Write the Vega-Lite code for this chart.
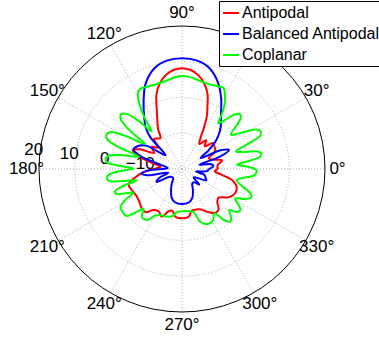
{
  "$schema": "https://vega.github.io/schema/vega-lite/v6.json",
  "width": 379,
  "height": 343,
  "autosize": {"type": "none"},
  "padding": 0,
  "background": "white",
  "config": {"view": {"stroke": null}, "font": "Liberation Sans"},
  "datasets": {
    "pattern": [
      {"series": "Antipodal", "deg": 0, "db": -10}, {"series": "Antipodal", "deg": 6, "db": -10}, {"series": "Antipodal", "deg": 12, "db": -8.5}, {"series": "Antipodal", "deg": 17, "db": -11}, {"series": "Antipodal", "deg": 22, "db": -12}, {"series": "Antipodal", "deg": 28, "db": -9.5}, {"series": "Antipodal", "deg": 34, "db": -9}, {"series": "Antipodal", "deg": 40, "db": -8.7}, {"series": "Antipodal", "deg": 45, "db": -11}, {"series": "Antipodal", "deg": 50, "db": -9.5}, {"series": "Antipodal", "deg": 55, "db": -11.5}, {"series": "Antipodal", "deg": 59, "db": -10}, {"series": "Antipodal", "deg": 62, "db": -7}, {"series": "Antipodal", "deg": 65, "db": -3.5}, {"series": "Antipodal", "deg": 68, "db": -1}, {"series": "Antipodal", "deg": 71, "db": 2}, {"series": "Antipodal", "deg": 75, "db": 4.5}, {"series": "Antipodal", "deg": 80, "db": 6.6}, {"series": "Antipodal", "deg": 85, "db": 7.8}, {"series": "Antipodal", "deg": 90, "db": 8.2}, {"series": "Antipodal", "deg": 95, "db": 7.8}, {"series": "Antipodal", "deg": 100, "db": 6.6}, {"series": "Antipodal", "deg": 105, "db": 4.5}, {"series": "Antipodal", "deg": 109, "db": 2}, {"series": "Antipodal", "deg": 112, "db": -1}, {"series": "Antipodal", "deg": 115, "db": -3.5}, {"series": "Antipodal", "deg": 118, "db": -5.4}, {"series": "Antipodal", "deg": 121, "db": -7}, {"series": "Antipodal", "deg": 125, "db": -9.5}, {"series": "Antipodal", "deg": 129, "db": -9}, {"series": "Antipodal", "deg": 133, "db": -8.5}, {"series": "Antipodal", "deg": 138, "db": -11}, {"series": "Antipodal", "deg": 144, "db": -9.5}, {"series": "Antipodal", "deg": 150, "db": -11}, {"series": "Antipodal", "deg": 155, "db": -7}, {"series": "Antipodal", "deg": 159, "db": -5.2}, {"series": "Antipodal", "deg": 163, "db": -7}, {"series": "Antipodal", "deg": 168, "db": -11}, {"series": "Antipodal", "deg": 174, "db": -14}, {"series": "Antipodal", "deg": 180, "db": -12}, {"series": "Antipodal", "deg": 185, "db": -9}, {"series": "Antipodal", "deg": 190, "db": -6.8}, {"series": "Antipodal", "deg": 196, "db": -4.5}, {"series": "Antipodal", "deg": 203, "db": -4.8}, {"series": "Antipodal", "deg": 210, "db": -5.2}, {"series": "Antipodal", "deg": 217, "db": -5}, {"series": "Antipodal", "deg": 224, "db": -4.3}, {"series": "Antipodal", "deg": 230, "db": -4.2}, {"series": "Antipodal", "deg": 235, "db": -6}, {"series": "Antipodal", "deg": 241, "db": -6.5}, {"series": "Antipodal", "deg": 247, "db": -5.5}, {"series": "Antipodal", "deg": 252, "db": -7.5}, {"series": "Antipodal", "deg": 257, "db": -8}, {"series": "Antipodal", "deg": 262, "db": -6.5}, {"series": "Antipodal", "deg": 270, "db": -6.2}, {"series": "Antipodal", "deg": 278, "db": -6.5}, {"series": "Antipodal", "deg": 283, "db": -8}, {"series": "Antipodal", "deg": 289, "db": -8}, {"series": "Antipodal", "deg": 295, "db": -7.5}, {"series": "Antipodal", "deg": 301, "db": -6}, {"series": "Antipodal", "deg": 307, "db": -4.6}, {"series": "Antipodal", "deg": 312, "db": -4.7}, {"series": "Antipodal", "deg": 317, "db": -6.5}, {"series": "Antipodal", "deg": 322, "db": -7}, {"series": "Antipodal", "deg": 328, "db": -5}, {"series": "Antipodal", "deg": 334, "db": -3.8}, {"series": "Antipodal", "deg": 341, "db": -3.8}, {"series": "Antipodal", "deg": 347, "db": -5.4}, {"series": "Antipodal", "deg": 352, "db": -9}, {"series": "Antipodal", "deg": 356, "db": -10.8}, {"series": "Antipodal", "deg": 360, "db": -10},

      {"series": "Balanced Antipodal", "deg": 0, "db": -12.5}, {"series": "Balanced Antipodal", "deg": 5, "db": -11.2}, {"series": "Balanced Antipodal", "deg": 10, "db": -12}, {"series": "Balanced Antipodal", "deg": 14, "db": -15}, {"series": "Balanced Antipodal", "deg": 18, "db": -9}, {"series": "Balanced Antipodal", "deg": 22, "db": -5.8}, {"series": "Balanced Antipodal", "deg": 26, "db": -8}, {"series": "Balanced Antipodal", "deg": 30, "db": -14}, {"series": "Balanced Antipodal", "deg": 35, "db": -11}, {"series": "Balanced Antipodal", "deg": 40, "db": -7.5}, {"series": "Balanced Antipodal", "deg": 45, "db": -5}, {"series": "Balanced Antipodal", "deg": 50, "db": -3}, {"series": "Balanced Antipodal", "deg": 55, "db": -1}, {"series": "Balanced Antipodal", "deg": 60, "db": 2}, {"series": "Balanced Antipodal", "deg": 67, "db": 6}, {"series": "Balanced Antipodal", "deg": 75, "db": 9.3}, {"series": "Balanced Antipodal", "deg": 82, "db": 10.6}, {"series": "Balanced Antipodal", "deg": 90, "db": 11}, {"series": "Balanced Antipodal", "deg": 98, "db": 10.6}, {"series": "Balanced Antipodal", "deg": 105, "db": 9.3}, {"series": "Balanced Antipodal", "deg": 113, "db": 6}, {"series": "Balanced Antipodal", "deg": 120, "db": 1.5}, {"series": "Balanced Antipodal", "deg": 126, "db": -2}, {"series": "Balanced Antipodal", "deg": 131, "db": -4.5}, {"series": "Balanced Antipodal", "deg": 135, "db": -7.5}, {"series": "Balanced Antipodal", "deg": 140, "db": -14}, {"series": "Balanced Antipodal", "deg": 147, "db": -8}, {"series": "Balanced Antipodal", "deg": 153, "db": -6}, {"series": "Balanced Antipodal", "deg": 158, "db": -5.4}, {"series": "Balanced Antipodal", "deg": 163, "db": -8}, {"series": "Balanced Antipodal", "deg": 169, "db": -14}, {"series": "Balanced Antipodal", "deg": 176, "db": -16}, {"series": "Balanced Antipodal", "deg": 182, "db": -11}, {"series": "Balanced Antipodal", "deg": 186, "db": -8.6}, {"series": "Balanced Antipodal", "deg": 190, "db": -10}, {"series": "Balanced Antipodal", "deg": 195, "db": -16}, {"series": "Balanced Antipodal", "deg": 202, "db": -13}, {"series": "Balanced Antipodal", "deg": 207, "db": -12}, {"series": "Balanced Antipodal", "deg": 213, "db": -16}, {"series": "Balanced Antipodal", "deg": 225, "db": -16.5}, {"series": "Balanced Antipodal", "deg": 235, "db": -15}, {"series": "Balanced Antipodal", "deg": 242, "db": -13.5}, {"series": "Balanced Antipodal", "deg": 250, "db": -11.5}, {"series": "Balanced Antipodal", "deg": 258, "db": -10.5}, {"series": "Balanced Antipodal", "deg": 270, "db": -10.2}, {"series": "Balanced Antipodal", "deg": 282, "db": -10.5}, {"series": "Balanced Antipodal", "deg": 290, "db": -11.5}, {"series": "Balanced Antipodal", "deg": 298, "db": -13.5}, {"series": "Balanced Antipodal", "deg": 305, "db": -15}, {"series": "Balanced Antipodal", "deg": 312, "db": -15}, {"series": "Balanced Antipodal", "deg": 318, "db": -13.5}, {"series": "Balanced Antipodal", "deg": 324, "db": -16}, {"series": "Balanced Antipodal", "deg": 330, "db": -15}, {"series": "Balanced Antipodal", "deg": 335, "db": -12.5}, {"series": "Balanced Antipodal", "deg": 340, "db": -13}, {"series": "Balanced Antipodal", "deg": 345, "db": -13.5}, {"series": "Balanced Antipodal", "deg": 350, "db": -16}, {"series": "Balanced Antipodal", "deg": 355, "db": -13}, {"series": "Balanced Antipodal", "deg": 360, "db": -12.5},

      {"series": "Coplanar", "deg": 0, "db": 0.6}, {"series": "Coplanar", "deg": 2, "db": -1.5}, {"series": "Coplanar", "deg": 4.5, "db": -4.5}, {"series": "Coplanar", "deg": 7, "db": -1}, {"series": "Coplanar", "deg": 9, "db": 2.2}, {"series": "Coplanar", "deg": 11, "db": 2.6}, {"series": "Coplanar", "deg": 13, "db": 1.8}, {"series": "Coplanar", "deg": 15, "db": -1.5}, {"series": "Coplanar", "deg": 18, "db": -4.2}, {"series": "Coplanar", "deg": 21, "db": 0}, {"series": "Coplanar", "deg": 23, "db": 3.8}, {"series": "Coplanar", "deg": 25.5, "db": 4.4}, {"series": "Coplanar", "deg": 28, "db": 3.5}, {"series": "Coplanar", "deg": 31, "db": 0}, {"series": "Coplanar", "deg": 35, "db": -3.3}, {"series": "Coplanar", "deg": 38.5, "db": -0.5}, {"series": "Coplanar", "deg": 41, "db": 1.8}, {"series": "Coplanar", "deg": 43.5, "db": 2.3}, {"series": "Coplanar", "deg": 46, "db": 1.2}, {"series": "Coplanar", "deg": 48.5, "db": -1.5}, {"series": "Coplanar", "deg": 51.5, "db": -3.7}, {"series": "Coplanar", "deg": 54, "db": -1}, {"series": "Coplanar", "deg": 57, "db": 2}, {"series": "Coplanar", "deg": 60, "db": 4}, {"series": "Coplanar", "deg": 63, "db": 5.5}, {"series": "Coplanar", "deg": 67, "db": 5.2}, {"series": "Coplanar", "deg": 72, "db": 4.9}, {"series": "Coplanar", "deg": 77, "db": 5}, {"series": "Coplanar", "deg": 82, "db": 5.5}, {"series": "Coplanar", "deg": 86, "db": 5.9}, {"series": "Coplanar", "deg": 90, "db": 6}, {"series": "Coplanar", "deg": 94, "db": 5.8}, {"series": "Coplanar", "deg": 98, "db": 5.3}, {"series": "Coplanar", "deg": 103, "db": 4.9}, {"series": "Coplanar", "deg": 108, "db": 4.8}, {"series": "Coplanar", "deg": 113, "db": 5}, {"series": "Coplanar", "deg": 117, "db": 5.3}, {"series": "Coplanar", "deg": 120, "db": 4.6}, {"series": "Coplanar", "deg": 123, "db": 2}, {"series": "Coplanar", "deg": 126, "db": -2}, {"series": "Coplanar", "deg": 129, "db": -6.5}, {"series": "Coplanar", "deg": 132, "db": -2}, {"series": "Coplanar", "deg": 135, "db": 1.8}, {"series": "Coplanar", "deg": 138, "db": 2.9}, {"series": "Coplanar", "deg": 141, "db": 2}, {"series": "Coplanar", "deg": 143.5, "db": -1.5}, {"series": "Coplanar", "deg": 146, "db": -7.5}, {"series": "Coplanar", "deg": 149.5, "db": -2}, {"series": "Coplanar", "deg": 152.5, "db": 2.4}, {"series": "Coplanar", "deg": 155.5, "db": 3.2}, {"series": "Coplanar", "deg": 158.5, "db": 2.4}, {"series": "Coplanar", "deg": 161, "db": -1.5}, {"series": "Coplanar", "deg": 164, "db": -7.5}, {"series": "Coplanar", "deg": 167.5, "db": -2}, {"series": "Coplanar", "deg": 170, "db": 0.9}, {"series": "Coplanar", "deg": 172.5, "db": 1.6}, {"series": "Coplanar", "deg": 175, "db": 1}, {"series": "Coplanar", "deg": 177, "db": -2.5}, {"series": "Coplanar", "deg": 179.5, "db": -6.5}, {"series": "Coplanar", "deg": 182, "db": -2.5}, {"series": "Coplanar", "deg": 184.5, "db": 0.6}, {"series": "Coplanar", "deg": 187, "db": 1.2}, {"series": "Coplanar", "deg": 189.5, "db": 0.5}, {"series": "Coplanar", "deg": 191.5, "db": -3}, {"series": "Coplanar", "deg": 194, "db": -7}, {"series": "Coplanar", "deg": 196, "db": -3}, {"series": "Coplanar", "deg": 198.5, "db": -0.2}, {"series": "Coplanar", "deg": 201, "db": -0.5}, {"series": "Coplanar", "deg": 203, "db": -2.5}, {"series": "Coplanar", "deg": 206, "db": -4.8}, {"series": "Coplanar", "deg": 209, "db": -1.5}, {"series": "Coplanar", "deg": 212, "db": 0.3}, {"series": "Coplanar", "deg": 216, "db": 0.5}, {"series": "Coplanar", "deg": 220, "db": 0.4}, {"series": "Coplanar", "deg": 223, "db": -2}, {"series": "Coplanar", "deg": 226, "db": -4.5}, {"series": "Coplanar", "deg": 230, "db": -2.5}, {"series": "Coplanar", "deg": 234, "db": -2.5}, {"series": "Coplanar", "deg": 237, "db": -3.2}, {"series": "Coplanar", "deg": 240, "db": -5}, {"series": "Coplanar", "deg": 246, "db": -5.8}, {"series": "Coplanar", "deg": 252, "db": -6}, {"series": "Coplanar", "deg": 258, "db": -6.5}, {"series": "Coplanar", "deg": 263, "db": -7.8}, {"series": "Coplanar", "deg": 270, "db": -8.2}, {"series": "Coplanar", "deg": 280, "db": -8}, {"series": "Coplanar", "deg": 285, "db": -7.5}, {"series": "Coplanar", "deg": 289, "db": -4.4}, {"series": "Coplanar", "deg": 295, "db": -3}, {"series": "Coplanar", "deg": 301, "db": -3.2}, {"series": "Coplanar", "deg": 306, "db": -4.6}, {"series": "Coplanar", "deg": 309.5, "db": -1.5}, {"series": "Coplanar", "deg": 312.5, "db": 0}, {"series": "Coplanar", "deg": 316, "db": -1}, {"series": "Coplanar", "deg": 319, "db": -2.5}, {"series": "Coplanar", "deg": 322, "db": -0.5}, {"series": "Coplanar", "deg": 325, "db": 0}, {"series": "Coplanar", "deg": 328, "db": -1.5}, {"series": "Coplanar", "deg": 331, "db": -3}, {"series": "Coplanar", "deg": 334.5, "db": -0.5}, {"series": "Coplanar", "deg": 338, "db": 1}, {"series": "Coplanar", "deg": 341, "db": 0}, {"series": "Coplanar", "deg": 344, "db": -2.5}, {"series": "Coplanar", "deg": 348.5, "db": -4.4}, {"series": "Coplanar", "deg": 352, "db": -2.5}, {"series": "Coplanar", "deg": 355, "db": 0.3}, {"series": "Coplanar", "deg": 358, "db": 0.9}, {"series": "Coplanar", "deg": 360, "db": 0.6}
    ],
    "spokes": [
      {"deg": 0, "label": "0°"}, {"deg": 30, "label": "30°"}, {"deg": 60, "label": "60°"}, {"deg": 90, "label": "90°"},
      {"deg": 120, "label": "120°"}, {"deg": 150, "label": "150°"}, {"deg": 180, "label": "180°"}, {"deg": 210, "label": "210°"},
      {"deg": 240, "label": "240°"}, {"deg": 270, "label": "270°"}, {"deg": 300, "label": "300°"}, {"deg": 330, "label": "330°"}
    ],
    "rings": [{"db": -10}, {"db": 0}, {"db": 10}],
    "outer": [{"db": 20}],
    "rticks": [{"db": -10, "label": "−10"}, {"db": 0, "label": "0"}, {"db": 10, "label": "10"}, {"db": 20, "label": "20"}]
  },
  "layer": [
    {
      "data": {"name": "rings"},
      "transform": [
        {"calculate": "datum.db + 20", "as": "r"},
        {"calculate": "0", "as": "cx"}
      ],
      "mark": {"type": "point", "shape": "circle", "filled": false, "opacity": 1, "stroke": "#b0b0b0", "strokeWidth": 1, "strokeDash": [1, 2]},
      "encoding": {
        "x": {"field": "cx", "type": "quantitative", "scale": {"domain": [-50.909, 55.105], "nice": false, "zero": false}, "axis": null},
        "y": {"field": "cx", "type": "quantitative", "scale": {"domain": [-48.671, 47.273], "nice": false, "zero": false}, "axis": null},
        "size": {"field": "r", "type": "quantitative", "scale": {"type": "pow", "exponent": 2, "domain": [0, 40], "range": [0, 81796]}, "legend": null}
      }
    },
    {
      "data": {"name": "spokes"},
      "transform": [
        {"calculate": "0", "as": "cx"},
        {"calculate": "40 * cos(datum.deg * PI / 180)", "as": "sx"},
        {"calculate": "40 * sin(datum.deg * PI / 180)", "as": "sy"}
      ],
      "mark": {"type": "rule", "stroke": "#b0b0b0", "strokeWidth": 1, "strokeDash": [1, 2]},
      "encoding": {
        "x": {"field": "cx", "type": "quantitative"},
        "y": {"field": "cx", "type": "quantitative"},
        "x2": {"field": "sx"},
        "y2": {"field": "sy"}
      }
    },
    {
      "data": {"name": "outer"},
      "transform": [
        {"calculate": "datum.db + 20", "as": "r"},
        {"calculate": "0", "as": "cx"}
      ],
      "mark": {"type": "point", "shape": "circle", "filled": false, "opacity": 1, "stroke": "black", "strokeWidth": 1},
      "encoding": {
        "x": {"field": "cx", "type": "quantitative"},
        "y": {"field": "cx", "type": "quantitative"},
        "size": {"field": "r", "type": "quantitative", "scale": {"type": "pow", "exponent": 2, "domain": [0, 40], "range": [0, 81796]}, "legend": null}
      }
    },
    {
      "data": {"name": "spokes"},
      "transform": [
        {"filter": "datum.deg != 60"},
        {"calculate": "43.5 * cos(datum.deg * PI / 180)", "as": "lx"},
        {"calculate": "43.5 * sin(datum.deg * PI / 180)", "as": "ly"}
      ],
      "mark": {"type": "text", "fontSize": 17, "font": "Liberation Sans", "align": "center", "baseline": "middle", "color": "black"},
      "encoding": {
        "x": {"field": "lx", "type": "quantitative"},
        "y": {"field": "ly", "type": "quantitative"},
        "text": {"field": "label"}
      }
    },
    {
      "data": {"name": "rticks"},
      "transform": [
        {"calculate": "(datum.db + 21.8) * cos(172.6 * PI / 180)", "as": "tx"},
        {"calculate": "(datum.db + 21.8) * sin(172.6 * PI / 180)", "as": "ty"}
      ],
      "mark": {"type": "text", "fontSize": 17, "font": "Liberation Sans", "align": "center", "baseline": "middle", "color": "black"},
      "encoding": {
        "x": {"field": "tx", "type": "quantitative"},
        "y": {"field": "ty", "type": "quantitative"},
        "text": {"field": "label"}
      }
    },
    {
      "data": {"name": "pattern"},
      "transform": [
        {"calculate": "(datum.db + 20) * cos(datum.deg * PI / 180)", "as": "px"},
        {"calculate": "(datum.db + 20) * sin(datum.deg * PI / 180)", "as": "py"}
      ],
      "mark": {"type": "line", "interpolate": "catmull-rom", "strokeWidth": 2},
      "encoding": {
        "x": {"field": "px", "type": "quantitative"},
        "y": {"field": "py", "type": "quantitative"},
        "order": {"field": "deg", "type": "quantitative"},
        "color": {
          "field": "series",
          "type": "nominal",
          "scale": {"domain": ["Antipodal", "Balanced Antipodal", "Coplanar"], "range": ["#ff0000", "#0000ff", "#00ff00"]},
          "legend": {
            "orient": "none",
            "legendX": 219,
            "legendY": 1,
            "title": null,
            "symbolType": "stroke",
            "symbolSize": 256,
            "symbolStrokeWidth": 2,
            "labelFontSize": 16,
            "labelFont": "Liberation Sans",
            "labelColor": "black",
            "labelLimit": 0,
            "labelOffset": 2,
            "fillColor": "white",
            "strokeColor": "black",
            "padding": 3,
            "rowPadding": 4,
            "cornerRadius": 0
          }
        }
      }
    }
  ]
}
